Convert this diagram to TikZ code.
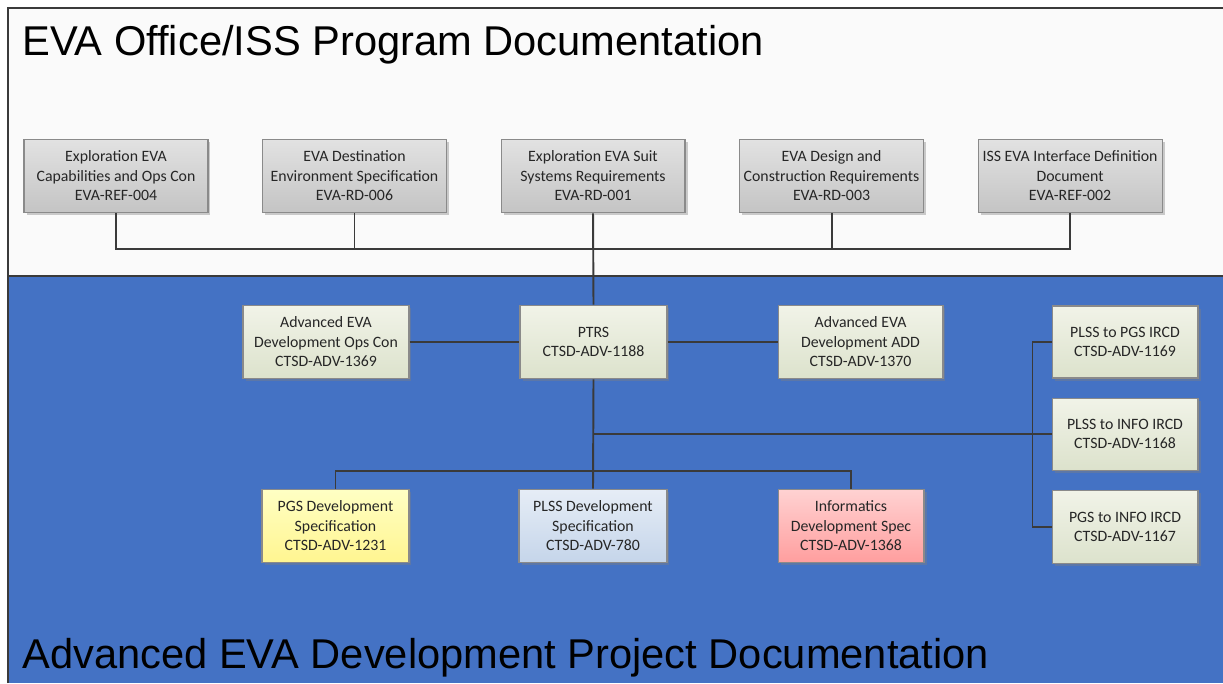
\documentclass[tikz,border=0pt]{standalone}
\usepackage{fontspec}
\setmainfont{Carlito}
\newfontfamily\titlefont{Liberation Sans}
\usetikzlibrary{positioning, shadows}
\usepackage{xcolor}

\definecolor{bgblue}{HTML}{4472C4}
\definecolor{bgwhite}{HTML}{FAFAFA}
\definecolor{boxline}{HTML}{8A8A8A}
\definecolor{boxtext}{HTML}{262626}
\definecolor{linegray}{HTML}{3A3A3A}
\definecolor{greytop}{HTML}{E2E2E2}
\definecolor{greybot}{HTML}{C4C4C4}
\definecolor{greentop}{HTML}{F1F3E8}
\definecolor{greenbot}{HTML}{DCE2CC}
\definecolor{yellowtop}{HTML}{FFFFC4}
\definecolor{yellowbot}{HTML}{FFF590}
\definecolor{bluetop}{HTML}{E6EDF6}
\definecolor{bluebot}{HTML}{C5D5EA}
\definecolor{redtop}{HTML}{FFD2D2}
\definecolor{redbot}{HTML}{FF9E9E}

\begin{document}
\begin{tikzpicture}[
  x=0.02cm, y=-0.02cm,
  box/.style={rectangle, draw=boxline, line width=0.6pt,
              top color=#1top, bottom color=#1bot,
              minimum height=1.47cm, inner xsep=1pt, align=center,
              font=\fontsize{9pt}{11.1pt}\selectfont, text=boxtext,
              drop shadow={shadow xshift=0.05cm, shadow yshift=-0.05cm, opacity=0.4}},
  link/.style={draw=linegray, line width=1.1pt},
  frame/.style={draw=linegray, line width=0.9pt},
  title/.style={font=\titlefont\fontsize{23.7pt}{28pt}\selectfont,
                anchor=base west, inner sep=0pt}
]
\useasboundingbox (0,0) rectangle (1223,683);

% ==================== BACKGROUND ====================
\fill[white] (0,0) rectangle (1223,683);
\fill[bgwhite] (8,8) rectangle (1223,276);
\fill[bgblue] (8,276) rectangle (1223,683);
\draw[frame] (8,683) -- (8,8) -- (1223,8);
\draw[frame] (8,276) -- (1223,276);

\node[title] (offtitle) at (22,55) {EVA Office/ISS Program Documentation};
\node[title] (advtitle) at (22,668) {Advanced EVA Development Project Documentation};

% ==================== EVA OFFICE / ISS ====================
\node[box=grey, minimum width=3.68cm] (expcap) at (116,176)
  {Exploration EVA\\Capabilities and Ops Con\\EVA-REF-004};
\node[box=grey, minimum width=3.68cm, right=1.07cm of expcap] (destenv)
  {EVA Destination\\Environment Specification\\EVA-RD-006};
\node[box=grey, minimum width=3.68cm, right=1.07cm of destenv] (suitreq)
  {Exploration EVA Suit\\Systems Requirements\\EVA-RD-001};
\node[box=grey, minimum width=3.68cm, right=1.07cm of suitreq] (designreq)
  {EVA Design and\\Construction Requirements\\EVA-RD-003};
\node[box=grey, minimum width=3.68cm, right=1.07cm of designreq] (issidd)
  {ISS EVA Interface Definition\\Document\\EVA-REF-002};

% ==================== ADVANCED EVA ====================
\node[box=green, minimum width=2.94cm] (ptrs) at (593.5,342)
  {PTRS\\CTSD-ADV-1188};
\node[box=green, minimum width=3.32cm, left=2.2cm of ptrs] (opscon)
  {Advanced EVA\\Development Ops Con\\CTSD-ADV-1369};
\node[box=green, minimum width=3.3cm, right=2.2cm of ptrs] (devadd)
  {Advanced EVA\\Development ADD\\CTSD-ADV-1370};

\node[box=green, minimum width=2.92cm, minimum height=1.44cm] (plsspgs) at (1125,342)
  {PLSS to PGS IRCD\\CTSD-ADV-1169};
\node[box=green, minimum width=2.92cm, minimum height=1.44cm, below=0.38cm of plsspgs] (plssinfo)
  {PLSS to INFO IRCD\\CTSD-ADV-1168};
\node[box=green, minimum width=2.92cm, below=0.38cm of plssinfo] (pgsinfo)
  {PGS to INFO IRCD\\CTSD-ADV-1167};

\node[box=blue, minimum width=2.96cm] (plssdev) at (593,526)
  {PLSS Development\\Specification\\CTSD-ADV-780};
\node[box=yellow, minimum width=2.94cm, left=2.18cm of plssdev] (pgsdev)
  {PGS Development\\Specification\\CTSD-ADV-1231};
\node[box=red, minimum width=2.92cm, right=2.2cm of plssdev] (infodev)
  {Informatics\\Development Spec\\CTSD-ADV-1368};

% ==================== CONNECTORS ====================
\coordinate (topbus) at (593,249);
\coordinate (midbus) at (593,471);
\path (plssinfo.west) ++(-19,0) coordinate (irbus);

\draw[link] (expcap.south) |- (issidd.south |- topbus) -- (issidd.south);
\draw[link] (destenv.south) -- (destenv.south |- topbus);
\draw[link] (designreq.south) -- (designreq.south |- topbus);
\draw[link] (suitreq.south) -- (ptrs.north);

\draw[link] (opscon.east) -- (ptrs.west);
\draw[link] (ptrs.east) -- (devadd.west);
\draw[link] (ptrs.south) -- (plssdev.north);
\draw[link] (pgsdev.north) |- (infodev.north |- midbus) -- (infodev.north);

\draw[link] (ptrs.south |- irbus) -- (plssinfo.west);
\draw[link] (plsspgs.west) -| (irbus) |- (pgsinfo.west);

\end{tikzpicture}
\end{document}
